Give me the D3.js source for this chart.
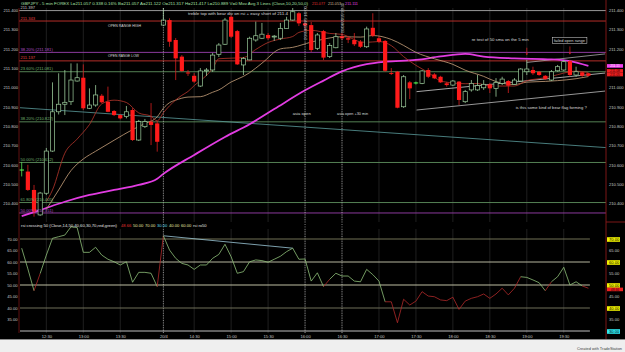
<!DOCTYPE html>
<html>
<head>
<meta charset="utf-8">
<script src="https://cdn.jsdelivr.net/npm/d3@7"></script>
<style>
  html, body { margin: 0; padding: 0; background: #000; overflow: hidden; }
  svg { display: block; font-family: "Liberation Sans", Arial, sans-serif; }
</style>
</head>
<body>
<script>
// GBPJPY 5 min bars, index 0 = 12:10
const opens = [
  210.573, 210.565, 210.470, 210.341, 210.453, 210.671, 210.874, 210.913, 210.926, 211.033,
  211.050, 210.892, 210.909, 210.957, 210.926, 210.878, 210.857, 210.849, 210.883, 210.728,
  210.797, 210.823, 210.814, 211.322, 211.348, 211.245, 211.159, 211.077, 211.060, 211.007,
  211.085, 211.090, 211.171, 211.223, 211.365, 211.291, 211.116, 211.142, 211.245, 211.254,
  211.271, 211.262, 211.254, 211.305, 211.348, 211.383, 211.331, 211.322, 211.202, 211.291,
  211.159, 211.205, 211.265, 211.254, 211.245, 211.236, 211.210, 211.308, 211.254, 211.240,
  211.074, 211.081, 210.900, 211.026, 211.023, 211.021, 211.090, 211.067, 211.055, 211.021,
  211.012, 211.030, 210.926, 210.987, 210.987, 210.998, 211.016, 210.995, 211.021, 211.033,
  211.016, 211.033, 211.081, 211.090, 211.081, 211.060, 211.038, 211.086, 211.090, 211.136,
  211.064, 211.078, 211.073
];
const highs = [
  210.615, 210.600, 210.496, 210.460, 210.687, 211.026, 211.073, 211.090, 211.124, 211.124,
  211.119, 210.995, 211.012, 210.966, 211.004, 210.883, 210.862, 210.904, 210.893, 210.832,
  210.837, 210.919, 210.826, 211.410, 211.357, 211.255, 211.167, 211.090, 211.074, 211.100,
  211.100, 211.178, 211.229, 211.359, 211.374, 211.297, 211.157, 211.262, 211.340, 211.333,
  211.281, 211.271, 211.333, 211.365, 211.417, 211.390, 211.335, 211.338, 211.281, 211.297,
  211.229, 211.281, 211.281, 211.266, 211.281, 211.245, 211.314, 211.383, 211.266, 211.245,
  211.100, 211.085, 211.064, 211.033, 211.030, 211.090, 211.100, 211.074, 211.060, 211.029,
  211.038, 211.033, 210.987, 211.038, 211.064, 211.038, 211.023, 211.048, 211.055, 211.038,
  211.048, 211.099, 211.142, 211.107, 211.085, 211.064, 211.090, 211.116, 211.142, 211.142,
  211.107, 211.081, 211.074
];
const lows = [
  210.540, 210.465, 210.332, 210.336, 210.444, 210.667, 210.860, 210.857, 210.909, 211.030,
  210.883, 210.888, 210.900, 210.918, 210.872, 210.852, 210.835, 210.840, 210.723, 210.723,
  210.790, 210.702, 210.668, 211.320, 211.210, 211.038, 211.080, 211.059, 211.023, 211.002,
  211.059, 211.080, 211.157, 211.219, 211.255, 211.116, 211.064, 211.140, 211.236, 211.250,
  211.245, 211.240, 211.245, 211.305, 211.345, 211.317, 211.297, 211.183, 211.193, 211.142,
  211.152, 211.202, 211.245, 211.229, 211.214, 211.204, 211.204, 211.260, 211.229, 211.080,
  211.064, 210.892, 210.894, 210.940, 211.015, 211.017, 211.048, 211.043, 211.023, 211.004,
  211.007, 210.909, 210.919, 210.978, 210.982, 210.987, 210.971, 210.952, 211.012, 210.971,
  211.012, 211.030, 211.064, 211.064, 211.060, 211.038, 211.033, 211.081, 211.085, 211.055,
  211.055, 211.055, 211.057
];
const closes = [
  210.573, 210.470, 210.358, 210.454, 210.671, 210.874, 210.913, 210.923, 211.038, 211.050,
  210.892, 210.909, 210.961, 210.923, 210.874, 210.857, 210.840, 210.874, 210.728, 210.823,
  210.823, 210.806, 210.719, 211.348, 211.236, 211.150, 211.085, 211.072, 211.030, 211.085,
  211.090, 211.167, 211.219, 211.348, 211.262, 211.119, 211.150, 211.254, 211.267, 211.275,
  211.254, 211.265, 211.305, 211.348, 211.391, 211.331, 211.320, 211.193, 211.271, 211.154,
  211.216, 211.262, 211.254, 211.247, 211.223, 211.210, 211.302, 211.267, 211.236, 211.086,
  211.071, 210.895, 211.055, 210.995, 211.023, 211.085, 211.055, 211.047, 211.026, 211.012,
  211.033, 210.935, 210.978, 211.021, 211.009, 211.016, 210.995, 211.026, 211.043, 211.009,
  211.038, 211.095, 211.095, 211.073, 211.064, 211.043, 211.081, 211.107, 211.133, 211.064,
  211.081, 211.060, 211.060
];
const rsi = [
  66.0, 57.0, 47.5, 55.0, 63.0, 70.3, 71.0, 71.7, 75.3, 75.0,
  64.2, 64.2, 66.4, 63.0, 61.2, 60.1, 58.7, 60.1, 51.2, 55.5,
  55.5, 55.1, 49.3, 71.4, 65.2, 61.6, 59.4, 58.7, 56.8, 58.7,
  58.7, 61.6, 63.3, 67.7, 62.3, 55.1, 55.8, 60.1, 60.9, 60.6,
  59.9, 61.2, 62.5, 64.5, 66.0, 61.2, 61.3, 51.7, 55.3, 49.3,
  52.5, 55.1, 53.9, 53.9, 51.7, 51.4, 56.8, 54.5, 51.7, 42.7,
  42.7, 33.6, 43.8, 41.3, 43.0, 47.1, 45.2, 44.9, 43.5, 43.2,
  44.7, 39.4, 43.0, 44.2, 44.9, 46.1, 44.2, 46.1, 48.6, 45.7,
  48.6, 53.6, 53.3, 52.2, 51.0, 47.5, 51.4, 53.6, 57.7, 50.0,
  51.4, 49.6, 48.6
];

// moving averages, [bar, price]
const ma10 = [[4,210.41],[5,210.47],[7,210.66],[9,210.733],[11,210.808],[13,210.915],[15,210.934],[17,210.922],
  [19,210.868],[21,210.851],[22,210.827],[23,210.869],[24,210.905],[25,210.935],[26,210.959],[27,210.979],
  [28,211.009],[29,211.035],[30,211.062],[31,211.098],[32,211.148],[34,211.151],[36,211.154],[38,211.196],
  [40,211.232],[42,211.250],[44,211.263],[45,211.284],[47,211.295],[50,211.279],[52,211.274],[54,211.247],
  [55,211.235],[56,211.233],[58,211.237],[60,211.216],[62,211.159],[64,211.114],[66,211.077],[68,211.034],
  [70,211.023],[72,211.019],[74,211.020],[76,211.007],[78,211.007],[80,211.007],[82,211.035],[84,211.045],
  [86,211.057],[88,211.074],[90,211.084],[92,211.077]];
const ma20 = [[4,210.37],[6,210.47],[8,210.57],[10,210.63],[12,210.67],[15,210.727],[18,210.782],[20,210.813],
  [22,210.848],[23,210.892],[24,210.921],[25,210.934],[27,210.950],[29,210.952],[31,210.975],[32,210.987],
  [34,211.028],[36,211.057],[37,211.076],[39,211.125],[42,211.199],[44,211.207],[47,211.234],[52,211.262],
  [55,211.260],[57,211.268],[60,211.248],[62,211.217],[64,211.181],[67,211.148],[70,211.119],[72,211.089],
  [75,211.057],[77,211.030],[80,211.015],[82,211.027],[85,211.031],[87,211.035],[90,211.045],[92,211.056]];
const ma50 = [[0,210.335],[3,210.366],[7,210.409],[11,210.444],[15,210.470],[19,210.496],[22,210.528],
  [23,210.553],[28,210.651],[33,210.744],[37,210.810],[41,210.888],[46,210.985],[49,211.035],[52,211.083],
  [56,211.120],[59,211.133],[64,211.142],[68,211.160],[72,211.173],[75,211.159],[80,211.150],[86,211.145],
  [89,211.136],[92,211.111]];
const maLast = [211.111, 211.077, 211.053];

// horizontal levels (open range + fib)
const levelPrices = [211.397, 211.343, 211.181, 211.137, 211.081, 210.822, 210.612, 210.405, 210.351];
const levelLabels = ["211.397", "211.343", "38.20% (211.181)", "211.137", "23.60% (211.081)",
  "38.20% (210.822)", "50.00% (210.612)", "61.80% (210.405)", "50.00% (210.351)"];
const levelKinds = ["gray", "red", "purple", "red", "green", "green", "green", "green", "purple"];

// drawn trend lines, [bar, price] end points
const trendLines = [
  [[-0.28, 210.895], [94.84, 210.689]],
  [[64.1, 210.883], [94.7, 210.981]],
  [[64.1, 210.978], [94.7, 211.074]],
  [[82.0, 211.129], [94.7, 211.173]]
];
const rsiTrend = [[23, 71.4], [44, 66.0]];

// notes written on the chart
const noteTexts = ["treble top with bear div on rsi + easy short of 211.4", "OPEN RANGE HIGH", "OPEN RANGE LOW",
  "asia open", "asia open +30 min", "re test of 50 sma on the 5 min", "failed open range",
  "is this some kind of bear flag forming ?"];
const noteBars = [27.0, 14.0, 14.0, 44.0, 51.2, 73.05, 86.4, 80.2];
const notePrices = [211.372, 211.312, 211.156, 210.859, 210.855, 211.242, 211.234, 210.887];
const arrowBars = [82, 89];
const arrowFrom = [211.205, 211.212];
const arrowTo = [211.166, 211.170];

const timeLabels = ["12:30", "13:00", "13:30", "20/4", "14:30", "15:00", "15:30", "16:00", "16:30",
  "17:00", "17:30", "18:00", "18:30", "19:00", "19:30"];
const timeBars = [4, 10, 16, 23, 28, 34, 40, 46, 52, 58, 64, 70, 76, 82, 88];
const markerBars = [23, 46, 52];
const markerTexts = ["", "20/04/2015 16:00", "20/04/2015 16:30"];

const priceTicks = [210.4, 210.5, 210.6, 210.7, 210.8, 210.9, 211.0, 211.1, 211.2, 211.3, 211.4];
const rsiLevels = [70, 60, 50, 40, 30];
const rsiTicks = [70, 65, 60, 55, 50, 45, 40, 35, 30];

// ---------------------------------------------------------------
const W = 625, H = 352;
const plot = {left: 19, right: 606, top: 8, mainBottom: 222, rsiTop: 229, rsiBottom: 333};
const fs = 4.1;

const svg = d3.select("body").append("svg").attr("width", W).attr("height", H);
svg.append("rect").attr("width", W).attr("height", H).attr("fill", "#000");

const x = d3.scaleLinear().domain([0, 92]).range([21.7, 588.4]);
const y = d3.scaleLinear().domain([210.4, 211.4]).range([203.5, 10]);
const yR = d3.scaleLinear().domain([30, 70]).range([331, 239]);
const bars = d3.range(closes.length);

const defs = svg.append("defs");
defs.append("clipPath").attr("id", "clipMain").append("rect")
  .attr("x", plot.left).attr("y", plot.top)
  .attr("width", plot.right - plot.left).attr("height", plot.mainBottom - plot.top);

// vertical grid
[[plot.top, plot.mainBottom], [plot.rsiTop, plot.rsiBottom]].forEach(([t, b]) => {
  svg.append("g").selectAll("line").data(timeBars).join("line")
    .attr("x1", d => x(d)).attr("x2", d => x(d)).attr("y1", t).attr("y2", b)
    .attr("stroke", "#2c2c2c").attr("stroke-width", 0.7);
});

const main = svg.append("g").attr("clip-path", "url(#clipMain)");

// horizontal levels
const lineColor = {gray: "#a8a8a8", red: "#c8322c", purple: "#9a3fae", green: "#5d8f5d"};
const textColor = {gray: "#c8c8c8", red: "#e04444", purple: "#b452c8", green: "#72b472"};
main.append("g").selectAll("line").data(levelPrices).join("line")
  .attr("x1", plot.left).attr("x2", plot.right)
  .attr("y1", d => y(d)).attr("y2", d => y(d))
  .attr("stroke", (d, i) => lineColor[levelKinds[i]]).attr("stroke-width", 0.9);

// trend lines
main.append("g").selectAll("line").data(trendLines).join("line")
  .attr("x1", d => x(d[0][0])).attr("y1", d => y(d[0][1]))
  .attr("x2", d => x(d[1][0])).attr("y2", d => y(d[1][1]))
  .attr("stroke", (d, i) => ["#5a9c9c", "#bdbdbd", "#cfcfcf", "#a9a9a9"][i])
  .attr("stroke-width", 0.8);

// moving averages
const maLine = d3.line().x(d => x(d[0])).y(d => y(d[1])).curve(d3.curveMonotoneX);
main.append("path").attr("d", maLine(ma50)).attr("fill", "none").attr("stroke", "#e23ce2").attr("stroke-width", 1.8);
main.append("path").attr("d", maLine(ma20)).attr("fill", "none").attr("stroke", "#c9a27c").attr("stroke-width", 0.8);
main.append("path").attr("d", maLine(ma10)).attr("fill", "none").attr("stroke", "#b8362c").attr("stroke-width", 0.8);

// dotted session markers
svg.append("g").selectAll("line").data(markerBars).join("line")
  .attr("x1", d => x(d)).attr("x2", d => x(d)).attr("y1", plot.top).attr("y2", plot.rsiBottom)
  .attr("stroke", "#d8d8d8").attr("stroke-width", 0.6).attr("stroke-dasharray", "1,1.4");

// candles
const isDoji = i => opens[i] === closes[i];
const isUp = i => closes[i] > opens[i];
const upCol = "#9ccc9c", downCol = "#ff1a1a";
main.append("g").selectAll("line").data(bars).join("line")
  .attr("x1", i => x(i)).attr("x2", i => x(i))
  .attr("y1", i => y(highs[i])).attr("y2", i => y(lows[i]))
  .attr("stroke", i => isDoji(i) ? "#55e055" : isUp(i) ? upCol : "#d82020")
  .attr("stroke-width", 0.8);
main.append("g").selectAll("rect").data(bars.filter(i => !isDoji(i))).join("rect")
  .attr("x", i => x(i) - 2.1).attr("width", 4.2)
  .attr("y", i => y(Math.max(opens[i], closes[i])))
  .attr("height", i => Math.max(0.9, Math.abs(y(opens[i]) - y(closes[i]))))
  .attr("fill", i => isUp(i) ? "#000" : downCol)
  .attr("stroke", i => isUp(i) ? upCol : "none")
  .attr("stroke-width", 0.7);
main.append("g").selectAll("line").data(bars.filter(isDoji)).join("line")
  .attr("x1", i => x(i) - 2.3).attr("x2", i => x(i) + 2.3)
  .attr("y1", i => y(closes[i])).attr("y2", i => y(closes[i]))
  .attr("stroke", "#55ff55").attr("stroke-width", 1);

// arrows
const arrows = main.append("g");
arrowBars.forEach((b, i) => {
  arrows.append("line").attr("x1", x(b)).attr("x2", x(b))
    .attr("y1", y(arrowFrom[i])).attr("y2", y(arrowTo[i]) - 1.5)
    .attr("stroke", "#e02020").attr("stroke-width", 0.7);
  arrows.append("path")
    .attr("d", `M${x(b) - 1.2},${y(arrowTo[i]) - 1.8} L${x(b) + 1.2},${y(arrowTo[i]) - 1.8} L${x(b)},${y(arrowTo[i])} Z`)
    .attr("fill", "#e02020");
});

// level labels
svg.append("g").selectAll("text").data(levelPrices).join("text")
  .attr("x", 20.5).attr("y", d => y(d) - 1.4)
  .attr("font-size", fs).attr("fill", (d, i) => textColor[levelKinds[i]])
  .text((d, i) => levelLabels[i]);

// notes
const noteWidths = [100, 33, 31, 18, 31, 57, 31, 71];
const notes = svg.append("g");
noteTexts.forEach((t, i) => {
  const el = notes.append("text").attr("x", x(noteBars[i])).attr("y", y(notePrices[i]))
    .attr("font-size", fs).attr("fill", "#dcdcdc")
    .attr("textLength", noteWidths[i]).attr("lengthAdjust", "spacingAndGlyphs").text(t);
  if (t === "failed open range") {
    const bb = el.node().getBBox();
    notes.insert("rect", "text").attr("x", bb.x - 1.3).attr("y", bb.y - 0.6)
      .attr("width", bb.width + 2.6).attr("height", bb.height + 1.2)
      .attr("fill", "#000").attr("stroke", "#e0e0e0").attr("stroke-width", 0.5);
  }
});

// rotated marker labels
svg.append("g").selectAll("text").data(markerBars.filter((d, i) => markerTexts[i])).join("text")
  .attr("transform", (d, i) => `translate(${x(d) + 1.5},${i === 0 ? 40 : 33}) rotate(-90)`)
  .attr("font-size", fs).attr("fill", "#bdbdbd")
  .attr("textLength", (d, i) => i === 0 ? 34 : 30).attr("lengthAdjust", "spacingAndGlyphs")
  .text((d, i) => markerTexts[i + 1]);

// ---------- RSI panel ----------
svg.append("g").selectAll("line").data(rsiLevels).join("line")
  .attr("x1", plot.left + 1).attr("x2", x(92) + 1.5)
  .attr("y1", d => yR(d)).attr("y2", d => yR(d))
  .attr("stroke", d => ({70: "#7e7e5e", 60: "#cacab0", 50: "#d4d4b4", 40: "#7a7a62", 30: "#d2d2d2"})[d])
  .attr("stroke-width", 0.9);

svg.append("line")
  .attr("x1", x(rsiTrend[0][0])).attr("y1", yR(rsiTrend[0][1]))
  .attr("x2", x(rsiTrend[1][0])).attr("y2", yR(rsiTrend[1][1]))
  .attr("stroke", "#9cc8d8").attr("stroke-width", 0.8);

svg.append("g").selectAll("line").data(bars.slice(1)).join("line")
  .attr("x1", i => x(i - 1)).attr("y1", i => yR(rsi[i - 1]))
  .attr("x2", i => x(i)).attr("y2", i => yR(rsi[i]))
  .attr("stroke", i => rsi[i - 1] < 50 ? "#b02a2a" : "#8fc07a")
  .attr("stroke-width", 0.8);

// ---------- frame ----------
svg.append("line").attr("x1", plot.left).attr("x2", plot.left).attr("y1", plot.top).attr("y2", plot.rsiBottom)
  .attr("stroke", "#7a1414").attr("stroke-width", 0.8);
svg.append("line").attr("x1", plot.right).attr("x2", plot.right).attr("y1", 0).attr("y2", 339)
  .attr("stroke", "#8b1a1a").attr("stroke-width", 0.9);
svg.append("line").attr("x1", plot.right).attr("x2", W).attr("y1", plot.mainBottom).attr("y2", plot.mainBottom)
  .attr("stroke", "#8b1a1a").attr("stroke-width", 0.9);

// ---------- axes ----------
const styleAxis = g => {
  g.attr("font-size", fs).attr("font-family", "Liberation Sans, Arial, sans-serif");
  g.select(".domain").remove();
  g.selectAll("text").attr("fill", "#c8c8c8");
};
// right price axis: 211.100 sits under the value boxes
svg.append("g").attr("transform", `translate(${plot.right},0)`)
  .call(d3.axisRight(y).tickValues(priceTicks.filter(d => d !== 211.1)).tickFormat(d3.format(".3f")).tickSize(0).tickPadding(3))
  .call(styleAxis);
svg.append("g").attr("transform", `translate(${plot.left},0)`)
  .call(d3.axisLeft(y).tickValues(priceTicks).tickFormat(d3.format(".3f")).tickSize(0).tickPadding(1))
  .call(styleAxis);
svg.append("g").attr("transform", `translate(${plot.left},0)`)
  .call(d3.axisLeft(yR).tickValues(rsiTicks.filter(d => d > 30)).tickFormat(d3.format(".2f")).tickSize(0).tickPadding(1.5))
  .call(styleAxis);
const rsiRight = svg.append("g").attr("transform", `translate(${plot.right},0)`)
  .call(d3.axisRight(yR).tickValues(rsiTicks).tickFormat(d3.format(".2f")).tickSize(0).tickPadding(3))
  .call(styleAxis);
const boxFill = {70: "#f2f200", 60: "#f2f200", 50: "#f2f200", 40: "#f2f200", 30: "#2ee8f0"};
rsiRight.selectAll(".tick").filter(d => boxFill[d]).each(function (d) {
  const t = d3.select(this);
  t.insert("rect", "text").attr("x", 1).attr("y", -2.3).attr("width", 13).attr("height", 4.6).attr("fill", boxFill[d]);
  t.select("text").attr("fill", "#000");
});

// current value boxes
const boxG = svg.append("g");
const addBox = (yy, txt, fill, col) => {
  boxG.append("rect").attr("x", plot.right + 1).attr("y", yy - 1.8).attr("width", 16).attr("height", 3.6).attr("fill", fill);
  boxG.append("text").attr("x", plot.right + 9).attr("y", yy).attr("dy", "0.34em").attr("text-anchor", "middle")
    .attr("font-size", 3.3).attr("fill", col).text(txt);
};
addBox(y(maLast[0]), d3.format(".2f")(maLast[0]), "#f040f0", "#fff");
addBox(y(maLast[1]) - 1.6, d3.format(".2f")(maLast[1]), "#f02020", "#300");
addBox(y(maLast[2]) - 2.6, d3.format(".2f")(maLast[2]), "#f02020", "#300");
addBox(yR(rsi[rsi.length - 1]) + 1.2, "48.66", "#f02020", "#300");

svg.append("g").attr("transform", `translate(0,${plot.rsiBottom})`)
  .call(d3.axisBottom(x).tickValues(timeBars).tickFormat((d, i) => timeLabels[i]).tickSize(0).tickPadding(2))
  .call(styleAxis);

// ---------- titles ----------
svg.append("text").attr("x", 21).attr("y", 4.9).attr("font-size", 4.3).attr("fill", "#a8e0a8")
  .attr("textLength", 287).attr("lengthAdjust", "spacingAndGlyphs")
  .text("GBPJPY - 5 min FOREX  L=211.057  0.338  0.16%  B=211.057  A=211.122  O=211.317  H=211.417  L=210.889  V=0  Mov Avg 3 Lines (Close,10,20,50,0)");
[["211.077", "#e03030", 312], ["211.053", "#d8bc9c", 328], ["211.111", "#e040e0", 345]].forEach(([t, c, xx]) => {
  svg.append("text").attr("x", xx).attr("y", 4.9).attr("font-size", 4.3).attr("fill", c)
    .attr("textLength", 13).attr("lengthAdjust", "spacingAndGlyphs").text(t);
});

svg.append("text").attr("x", 21).attr("y", 227.4).attr("font-size", fs).attr("fill", "#e0e0e0")
  .attr("textLength", 96).attr("lengthAdjust", "spacingAndGlyphs")
  .text("rsi crossing 50 (Close,14,50,40,60,30,70,red,green)");
[["48.66", "#e03030"], ["50.00", "#e8e4a0"], ["70.00", "#e8e4a0"], ["30.00", "#60d8e8"],
 ["40.00", "#e8e4a0"], ["60.00", "#e8e4a0"], ["rsi ro50", "#e0e0e0"]].forEach(([t, c], i) => {
  svg.append("text").attr("x", 121 + i * 12).attr("y", 227.4).attr("font-size", fs).attr("fill", c).text(t);
});

// ---------- bottom strip ----------
svg.append("rect").attr("x", 0).attr("y", 339.5).attr("width", W).attr("height", H - 339.5).attr("fill", "#efefef");
svg.append("line").attr("x1", 0).attr("x2", W).attr("y1", 339.5).attr("y2", 339.5).attr("stroke", "#9a9a9a").attr("stroke-width", 0.6);
svg.append("text").attr("x", 622).attr("y", 349.5).attr("text-anchor", "end").attr("font-size", 3.9).attr("fill", "#404040")
  .text("Created with TradeStation");
</script>
</body>
</html>
